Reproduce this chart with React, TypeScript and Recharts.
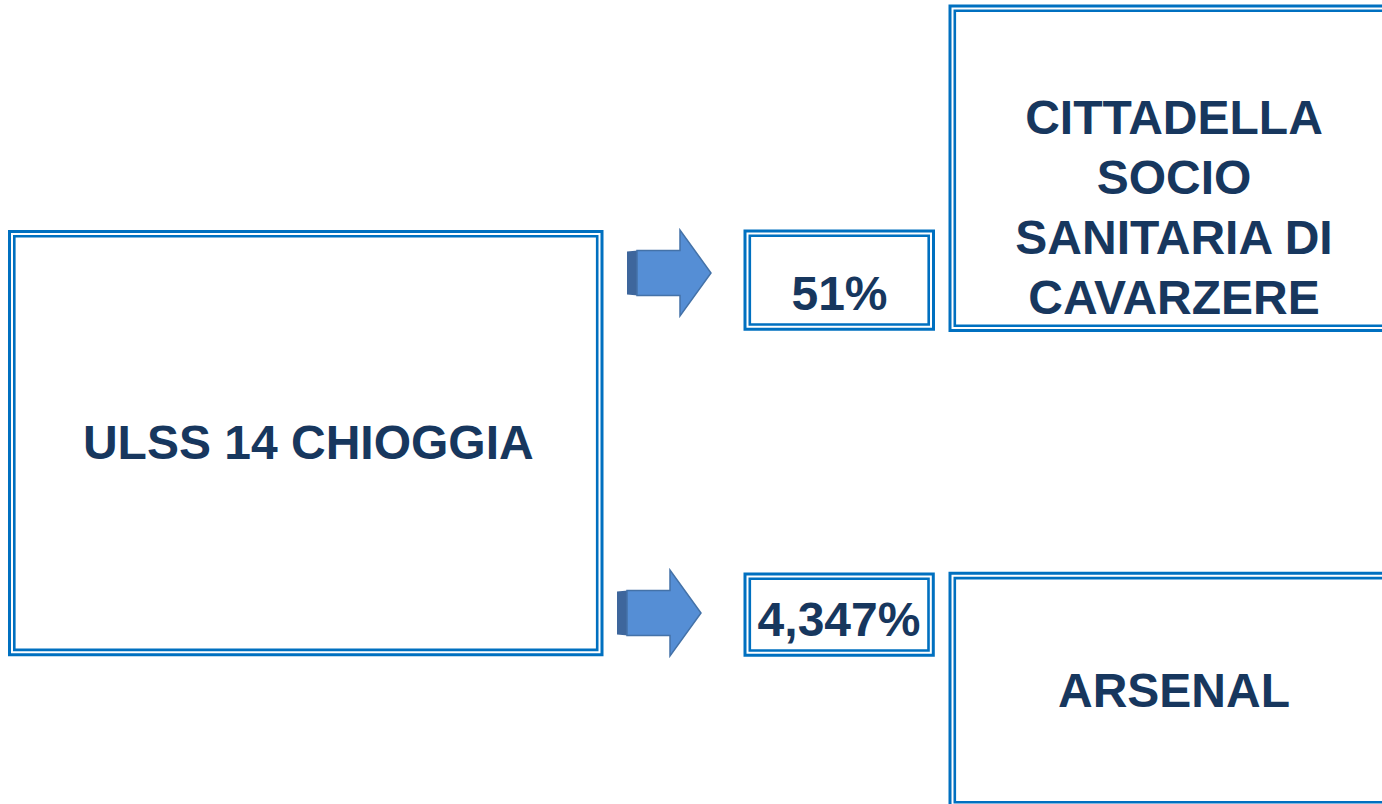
import React from "react";
import { ComposedChart, XAxis, YAxis, ReferenceArea, Scatter } from "recharts";

// ---- values ----
const sourceNames = ["ULSS 14 CHIOGGIA"];
const shareValues = [51, 4.347];
const targetNames = [
  ["CITTADELLA", "SOCIO", "SANITARIA DI", "CAVARZERE"],
  ["ARSENAL"],
];

// ---- layout (diagram coordinates, pixels of the 1382x804 frame) ----
const W = 1382;
const H = 804;
const BLUE = "#0070C0";
const TEXT = "#17375E";
const FONT = "'Liberation Sans', Arial, Helvetica, sans-serif";

type Box = { x1: number; y1: number; x2: number; y2: number };
const sourceBox: Box = { x1: 9.5, y1: 231.5, x2: 602, y2: 654.7 };
const shareBoxes: Box[] = [
  { x1: 745, y1: 231, x2: 933.5, y2: 329.3 },
  { x1: 745, y1: 574, x2: 933.3, y2: 655.3 },
];
const targetBoxes: Box[] = [
  { x1: 950, y1: 6, x2: 1400, y2: 330.5 },
  { x1: 950, y1: 573.3, x2: 1400, y2: 807 },
];
const arrowAnchors = [
  { x: 627, y: 273 },
  { x: 617, y: 613 },
];
const INSET = 4.8;

const fmtPct = (v: number) =>
  v.toLocaleString("it-IT", { maximumFractionDigits: 3 }) + "%";

const textPoints = [
  { x: 308.3, y: 459.3, lines: [sourceNames[0]], gap: 0 },
  { x: 839.5, y: 310, lines: [fmtPct(shareValues[0])], gap: 0 },
  { x: 839, y: 636, lines: [fmtPct(shareValues[1])], gap: 0 },
  { x: 1174, y: 134, lines: targetNames[0], gap: 60 },
  { x: 1174, y: 706.7, lines: targetNames[1], gap: 0 },
];

const DoubleBox = (b: Box, key: string) => [
  <ReferenceArea
    key={key + "o"}
    x1={b.x1}
    x2={b.x2}
    y1={b.y1}
    y2={b.y2}
    fill="#FFFFFF"
    fillOpacity={1}
    stroke={BLUE}
    strokeWidth={3}
    ifOverflow="hidden"
  />,
  <ReferenceArea
    key={key + "i"}
    x1={b.x1 + INSET}
    x2={b.x2 - INSET}
    y1={b.y1 + INSET}
    y2={b.y2 - INSET}
    fill="none"
    fillOpacity={0}
    stroke={BLUE}
    strokeWidth={2.6}
    ifOverflow="hidden"
  />,
];

const ArrowShape = (props: any) => {
  const { cx, cy } = props;
  if (cx == null || cy == null) return <g />;
  const side = 10;
  const shaftEnd = 53;
  const tip = 84;
  const sh = 22.5;
  const hh = 43;
  const x0 = cx + side;
  const pts = [
    [x0, cy - sh],
    [cx + shaftEnd, cy - sh],
    [cx + shaftEnd, cy - hh],
    [cx + tip, cy],
    [cx + shaftEnd, cy + hh],
    [cx + shaftEnd, cy + sh],
    [x0, cy + sh],
  ]
    .map((p) => p.join(","))
    .join(" ");
  return (
    <g>
      <polygon
        points={`${cx},${cy - sh + 1} ${x0 + 1},${cy - sh} ${x0 + 1},${cy + sh} ${cx},${cy + sh - 1}`}
        fill="#3E669C"
      />
      <polygon points={pts} fill="#558ED5" stroke="#4472A8" strokeWidth={1.5} strokeLinejoin="miter" />
    </g>
  );
};

const TextShape = (props: any) => {
  const { cx, cy, payload } = props;
  if (cx == null || cy == null) return <g />;
  return (
    <g>
      {payload.lines.map((l: string, i: number) => (
        <text
          key={i}
          x={cx}
          y={cy + i * payload.gap}
          textAnchor="middle"
          fontFamily={FONT}
          fontWeight="bold"
          fontSize={48}
          fill={TEXT}
        >
          {l}
        </text>
      ))}
    </g>
  );
};

export default function App() {
  return (
    <div style={{ position: "absolute", left: 0, top: 0, width: W, height: H, background: "#FFFFFF" }}>
      <ComposedChart width={W} height={H} margin={{ top: 0, right: 0, bottom: 0, left: 0 }}>
        <XAxis type="number" dataKey="x" domain={[0, W]} hide allowDataOverflow />
        <YAxis type="number" dataKey="y" domain={[0, H]} reversed hide allowDataOverflow width={0} />
        {DoubleBox(sourceBox, "src")}
        {shareBoxes.map((b, i) => DoubleBox(b, "sh" + i))}
        {targetBoxes.map((b, i) => DoubleBox(b, "tg" + i))}
        <Scatter data={arrowAnchors} shape={ArrowShape} isAnimationActive={false} />
        <Scatter data={textPoints} shape={TextShape} isAnimationActive={false} />
      </ComposedChart>
    </div>
  );
}
